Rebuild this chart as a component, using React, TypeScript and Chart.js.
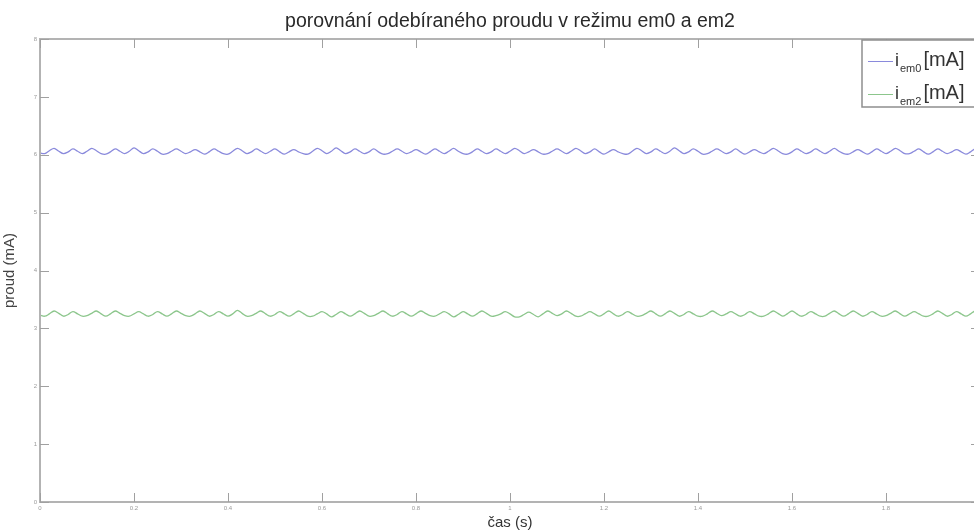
import React, { useEffect, useRef } from "react";
import { Chart, registerables } from "chart.js";

Chart.register(...registerables);

// ---- data ----
const chartTitle = "porovnání odebíraného proudu v režimu em0 a em2";
const xAxisTitle = "čas (s)";
const yAxisTitle = "proud (mA)";
const xTickValues = [0, 0.2, 0.4, 0.6, 0.8, 1, 1.2, 1.4, 1.6, 1.8, 2];
const xTickLabels = ["0", "0.2", "0.4", "0.6", "0.8", "1", "1.2", "1.4", "1.6", "1.8", "2"];
const yTickValues = [0, 1, 2, 3, 4, 5, 6, 7, 8];
const yTickLabels = ["0", "1", "2", "3", "4", "5", "6", "7", "8"];
const sampleStep = 0.01; // s
const seriesNames = ["em0", "em2"];

const em0 = [
  6.03, 6.02, 6.07, 6.11, 6.06, 6.02, 6.05, 6.10, 6.06, 6.02,
  6.06, 6.11, 6.07, 6.02, 6.01, 6.05, 6.10, 6.06, 6.02, 6.06,
  6.12, 6.07, 6.02, 6.05, 6.10, 6.06, 6.01, 6.02, 6.06, 6.10,
  6.06, 6.02, 6.05, 6.09, 6.05, 6.01, 6.05, 6.10, 6.06, 6.02,
  6.01, 6.06, 6.11, 6.07, 6.02, 6.05, 6.10, 6.06, 6.02, 6.06,
  6.10, 6.05, 6.01, 6.05, 6.09, 6.05, 6.02, 6.01, 6.06, 6.11,
  6.07, 6.02, 6.06, 6.12, 6.07, 6.02, 6.05, 6.10, 6.06, 6.02,
  6.05, 6.10, 6.05, 6.01, 6.02, 6.06, 6.10, 6.06, 6.02, 6.05,
  6.09, 6.05, 6.01, 6.05, 6.10, 6.06, 6.02, 6.06, 6.11, 6.06,
  6.02, 6.01, 6.05, 6.10, 6.06, 6.02, 6.05, 6.10, 6.06, 6.02,
  6.06, 6.11, 6.07, 6.02, 6.05, 6.09, 6.05, 6.01, 6.02, 6.06,
  6.10, 6.06, 6.02, 6.06, 6.11, 6.07, 6.02, 6.05, 6.10, 6.05,
  6.01, 6.05, 6.09, 6.05, 6.02, 6.01, 6.06, 6.11, 6.07, 6.02,
  6.05, 6.10, 6.06, 6.02, 6.06, 6.12, 6.07, 6.02, 6.05, 6.10,
  6.06, 6.01, 6.02, 6.06, 6.10, 6.06, 6.02, 6.05, 6.10, 6.05,
  6.01, 6.05, 6.09, 6.05, 6.02, 6.06, 6.11, 6.07, 6.02, 6.01,
  6.05, 6.10, 6.06, 6.02, 6.05, 6.10, 6.06, 6.02, 6.06, 6.11,
  6.06, 6.02, 6.01, 6.05, 6.09, 6.05, 6.01, 6.05, 6.10, 6.06,
  6.02, 6.06, 6.11, 6.07, 6.02, 6.02, 6.06, 6.10, 6.05, 6.01,
  6.05, 6.10, 6.06, 6.02, 6.05, 6.09, 6.05, 6.01, 6.05, 6.10,
  6.06,
];

const em2 = [
  3.23, 3.21, 3.25, 3.30, 3.26, 3.21, 3.24, 3.29, 3.25, 3.21,
  3.22, 3.26, 3.30, 3.25, 3.21, 3.25, 3.30, 3.26, 3.22, 3.21,
  3.25, 3.29, 3.25, 3.21, 3.24, 3.29, 3.25, 3.21, 3.25, 3.30,
  3.26, 3.22, 3.21, 3.25, 3.30, 3.26, 3.21, 3.24, 3.29, 3.25,
  3.21, 3.25, 3.31, 3.26, 3.21, 3.22, 3.26, 3.30, 3.25, 3.21,
  3.24, 3.29, 3.25, 3.21, 3.25, 3.30, 3.26, 3.21, 3.21, 3.25,
  3.29, 3.25, 3.20, 3.24, 3.29, 3.25, 3.21, 3.25, 3.30, 3.26,
  3.21, 3.22, 3.26, 3.30, 3.25, 3.21, 3.24, 3.29, 3.25, 3.21,
  3.25, 3.30, 3.26, 3.22, 3.21, 3.25, 3.29, 3.25, 3.20, 3.24,
  3.29, 3.25, 3.21, 3.25, 3.30, 3.26, 3.21, 3.22, 3.25, 3.29,
  3.25, 3.20, 3.20, 3.24, 3.28, 3.24, 3.20, 3.25, 3.30, 3.26,
  3.22, 3.25, 3.30, 3.26, 3.21, 3.21, 3.25, 3.29, 3.25, 3.21,
  3.25, 3.30, 3.25, 3.21, 3.24, 3.29, 3.25, 3.21, 3.22, 3.26,
  3.30, 3.25, 3.21, 3.25, 3.30, 3.26, 3.21, 3.24, 3.29, 3.25,
  3.21, 3.21, 3.25, 3.30, 3.26, 3.22, 3.25, 3.29, 3.25, 3.21,
  3.24, 3.29, 3.25, 3.21, 3.21, 3.25, 3.30, 3.26, 3.21, 3.25,
  3.30, 3.25, 3.21, 3.24, 3.29, 3.25, 3.21, 3.21, 3.26, 3.30,
  3.25, 3.21, 3.25, 3.30, 3.26, 3.21, 3.24, 3.29, 3.25, 3.21,
  3.22, 3.26, 3.30, 3.25, 3.21, 3.25, 3.29, 3.25, 3.21, 3.21,
  3.25, 3.30, 3.26, 3.21, 3.24, 3.29, 3.25, 3.21, 3.25, 3.30,
  3.26,
];

// ---- styles ----
const COLOR_EM0 = "#8a8adc";
const COLOR_EM2 = "#8cc68c";
const AXIS_COLOR = "#b3b3b3";
const FONT = "'Liberation Sans', Arial, sans-serif";

const toPoints = (vals: number[]) =>
  vals.map((v, i) => ({ x: Math.round(i * sampleStep * 1000) / 1000, y: v }));

const boxPlugin = {
  id: "matlabBox",
  afterDraw(chart: any) {
    const { ctx, chartArea, scales } = chart;
    const { left, right, top, bottom } = chartArea;
    const xs = scales.x;
    const ys = scales.y;
    ctx.save();
    // axes box
    ctx.strokeStyle = AXIS_COLOR;
    ctx.lineWidth = 2;
    ctx.strokeRect(left, top, right - left, bottom - top);
    // inward ticks
    ctx.lineWidth = 1;
    ctx.strokeStyle = "#a0a0a0";
    const tl = 9;
    xTickValues.forEach((v) => {
      const px = Math.round(xs.getPixelForValue(v)) + 0.5;
      ctx.beginPath();
      ctx.moveTo(px, bottom);
      ctx.lineTo(px, bottom - tl);
      ctx.moveTo(px, top);
      ctx.lineTo(px, top + tl);
      ctx.stroke();
    });
    yTickValues.forEach((v) => {
      const py = Math.round(ys.getPixelForValue(v)) + 0.5;
      ctx.beginPath();
      ctx.moveTo(left, py);
      ctx.lineTo(left + tl, py);
      ctx.moveTo(right, py);
      ctx.lineTo(right - tl, py);
      ctx.stroke();
    });

    // legend with subscripts
    const bx = 862, by = 40, bw = 140, bh = 67;
    ctx.fillStyle = "#ffffff";
    ctx.fillRect(bx, by, bw, bh);
    ctx.strokeStyle = "#8e8e8e";
    ctx.lineWidth = 1.5;
    ctx.strokeRect(bx, by, bw, bh);
    const entries = [
      { name: seriesNames[0], color: COLOR_EM0, lineY: 61, base: 66 },
      { name: seriesNames[1], color: COLOR_EM2, lineY: 94, base: 99 },
    ];
    entries.forEach((e) => {
      ctx.strokeStyle = e.color;
      ctx.lineWidth = 1;
      ctx.beginPath();
      ctx.moveTo(868, e.lineY + 0.5);
      ctx.lineTo(893, e.lineY + 0.5);
      ctx.stroke();
      ctx.fillStyle = "#333333";
      ctx.textBaseline = "alphabetic";
      ctx.textAlign = "left";
      ctx.font = `18px ${FONT}`;
      let x = 895;
      ctx.fillText("i", x, e.base);
      x += ctx.measureText("i").width + 1;
      ctx.font = `11px ${FONT}`;
      ctx.fillText(e.name, x, e.base + 6);
      x += ctx.measureText(e.name).width + 2;
      ctx.font = `20px ${FONT}`;
      ctx.fillText("[mA]", x, e.base);
    });
    ctx.restore();
  },
};

export default function App() {
  const canvasRef = useRef<HTMLCanvasElement | null>(null);

  useEffect(() => {
    if (!canvasRef.current) return;
    const chart = new Chart(canvasRef.current, {
      type: "line",
      data: {
        datasets: [
          {
            label: "i_em0 [mA]",
            data: toPoints(em0),
            borderColor: COLOR_EM0,
            borderWidth: 1.3,
            pointRadius: 0,
            tension: 0.35,
            fill: false,
          },
          {
            label: "i_em2 [mA]",
            data: toPoints(em2),
            borderColor: COLOR_EM2,
            borderWidth: 1.3,
            pointRadius: 0,
            tension: 0.35,
            fill: false,
          },
        ],
      },
      options: {
        responsive: false,
        animation: false,
        devicePixelRatio: 1,
        layout: { padding: { left: 0, right: 40, top: 0, bottom: 0 } },
        plugins: {
          legend: { display: false },
          tooltip: { enabled: false },
          title: {
            display: true,
            fullSize: false,
            text: chartTitle,
            color: "#2a2a2a",
            font: { family: FONT, size: 19.5, weight: "normal" },
            padding: { top: 10, bottom: 5.6 },
          },
        },
        scales: {
          x: {
            type: "linear",
            min: 0,
            max: 2,
            afterBuildTicks: (s: any) => {
              s.ticks = xTickValues.map((v) => ({ value: v }));
            },
            afterFit: (s: any) => {
              s.height = 30;
            },
            grid: { display: false, drawTicks: false },
            border: { display: false },
            ticks: {
              padding: 3,
              maxRotation: 0,
              autoSkip: false,
              color: "#9a9a9a",
              font: { family: FONT, size: 6 },
              callback: (v: any) => {
                const i = xTickValues.findIndex((t) => Math.abs(t - Number(v)) < 1e-9);
                return i >= 0 ? xTickLabels[i] : "";
              },
            },
            title: {
              display: true,
              text: xAxisTitle,
              color: "#333333",
              font: { family: FONT, size: 15 },
              padding: { top: 0, bottom: 0 },
            },
          },
          y: {
            type: "linear",
            min: 0,
            max: 8,
            afterBuildTicks: (s: any) => {
              s.ticks = yTickValues.map((v) => ({ value: v }));
            },
            afterFit: (s: any) => {
              s.width = 40;
            },
            grid: { display: false, drawTicks: false },
            border: { display: false },
            ticks: {
              padding: 3,
              autoSkip: false,
              color: "#9a9a9a",
              font: { family: FONT, size: 6 },
              callback: (v: any) => {
                const i = yTickValues.indexOf(Number(v));
                return i >= 0 ? yTickLabels[i] : "";
              },
            },
            title: {
              display: true,
              text: yAxisTitle,
              color: "#444444",
              font: { family: FONT, size: 15 },
              padding: { top: 1, bottom: 1 },
            },
          },
        },
      },
      plugins: [boxPlugin],
    });
    return () => chart.destroy();
  }, []);

  return (
    <div
      style={{
        position: "fixed",
        left: 0,
        top: 0,
        width: 974,
        height: 532,
        overflow: "hidden",
        background: "#ffffff",
      }}
    >
      <canvas
        ref={canvasRef}
        width={1020}
        height={532}
        style={{ display: "block", width: 1020, height: 532 }}
      />
    </div>
  );
}
